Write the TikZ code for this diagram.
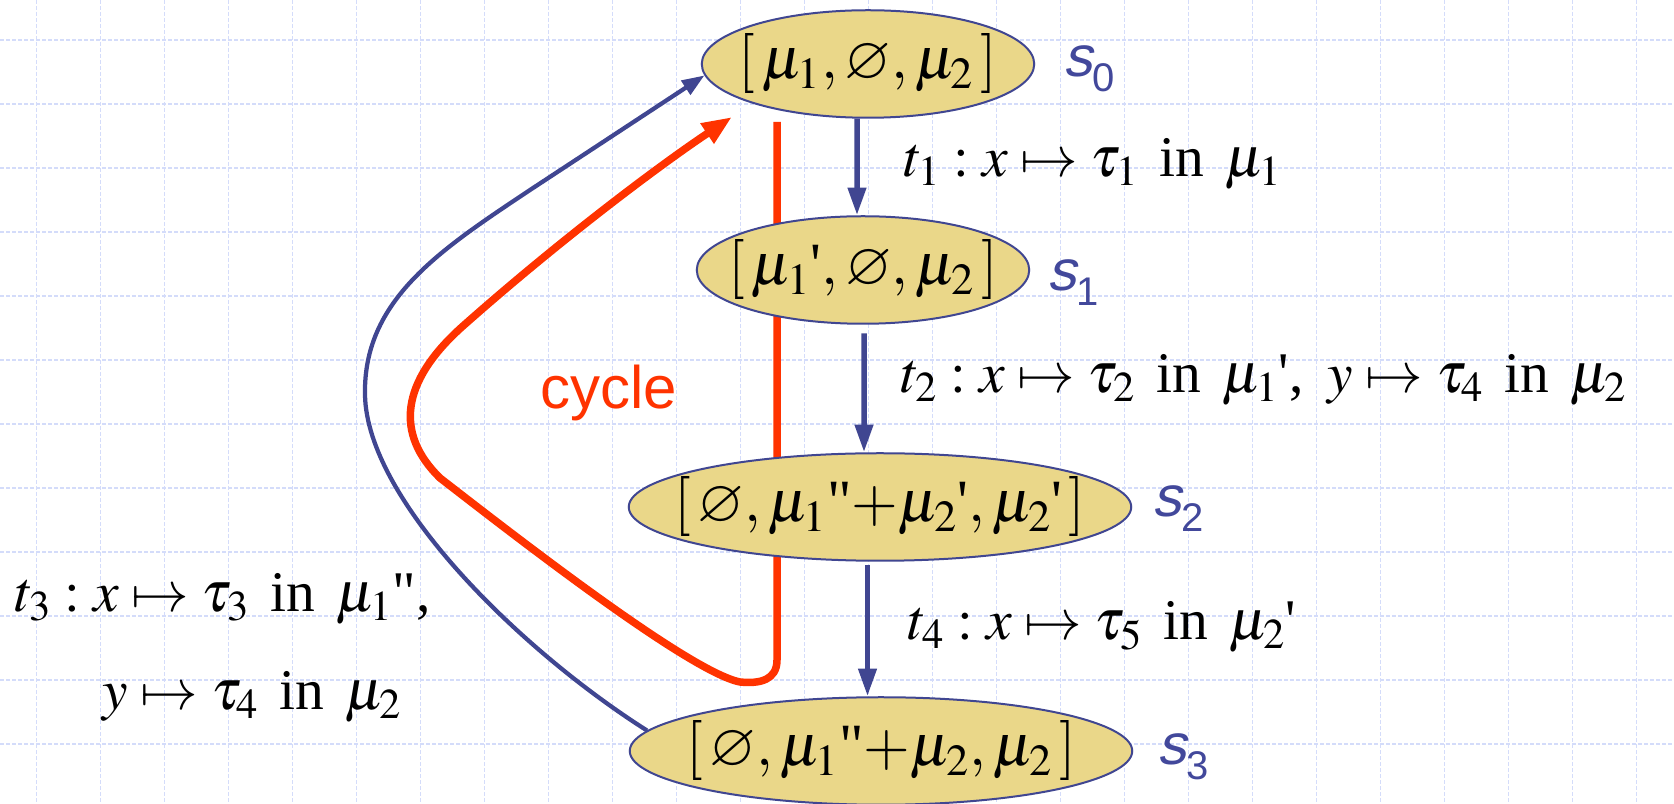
\documentclass[tikz,border=0pt]{standalone}
\usepackage{mathptmx}
\usepackage{amssymb}
\usepackage{fontspec}
\setmainfont{Liberation Serif}
\setsansfont{Liberation Sans}
\newfontfamily\slantsans[FakeSlant=0.22]{Liberation Sans}
\usepackage{tikz}
\usetikzlibrary{arrows.meta, positioning, shapes.geometric}

\definecolor{stateblue}{RGB}{64,70,145}
\definecolor{labelblue}{RGB}{66,72,155}
\definecolor{statefill}{RGB}{234,215,137}
\definecolor{cyclered}{RGB}{255,51,0}
\definecolor{gridblue}{RGB}{212,220,250}

\newcommand{\prm}{\mbox{\textquotesingle}}
\newcommand{\dprm}{\mbox{\textquotedbl}}
\newcommand{\slab}[1]{{\slantsans s}\raisebox{-6pt}{\fontsize{16}{18}\selectfont #1}}
\newcommand{\inword}{\hspace{0.36em}in\hspace{0.36em}}

\begin{document}
\begin{tikzpicture}[x=0.4pt, y=-0.4pt,
  conf/.style={
    ellipse, draw=stateblue, fill=statefill, line width=0.8pt, inner sep=0pt,
    minimum height=43pt, font=\fontsize{24}{28}\selectfont
  },
  narrow/.style={minimum width=133pt},
  wide/.style={minimum width=201pt},
  trans/.style={-{Triangle[length=11pt,width=7pt]}, line width=2.2pt, draw=stateblue},
  returnarrow/.style={-{Triangle[length=9pt,width=6.5pt]}, line width=1.7pt, draw=stateblue},
  cyc/.style={-{Triangle[length=12pt,width=9pt]}, line width=3pt, draw=cyclered, line join=round},
  rule/.style={font=\fontsize{23}{27}\selectfont, inner sep=0pt, anchor=base west},
  slabel/.style={font=\sffamily\fontsize{23}{27}\selectfont, text=labelblue, inner sep=0pt, anchor=base west},
  gridline/.style={gridblue, line width=0.6pt, dash pattern=on 1.6pt off 0.8pt}
]
\useasboundingbox (0,0) rectangle (1674,804);

% --- background grid ---
\foreach \gx in {0,...,25}
  \draw[gridline] ({36.7+64*\gx},0) -- ({36.7+64*\gx},804);
\foreach \gy in {0,...,11}
  \draw[gridline] (0,{40+64*\gy}) -- (1674,{40+64*\gy});

% --- the cycle, under the states ---
\draw[cyc] (777,122) -- (777,660) .. controls (777,680) and (760,684) .. (740,682)
  .. controls (690,672) and (520,540) .. (440,478)
  .. controls (395,434) and (400,382) .. (463,326)
  .. controls (560,240) and (660,165) .. (732,117);
\node[font=\sffamily\fontsize{24}{28}\selectfont, text=cyclered, inner sep=0pt, anchor=base west] (cyclbl) at (540,409) {cycle};

% --- states ---
\node[conf, narrow] (s0) at (868,64) {\makebox[0pt]{$[\,\mu_1, \varnothing, \mu_2\,]$}};
\node[conf, narrow] (s1) at (863,270) {\makebox[0pt]{$[\,\mu_1$\prm$, \varnothing, \mu_2\,]$}};
\node[conf, wide] (s2) at (880,507) {\makebox[0pt]{$[\,\varnothing, \mu_1$\dprm$+\mu_2$\prm$, \mu_2$\prm$\,]$}};
\node[conf, wide] (s3) at (881,751) {\makebox[0pt]{$[\,\varnothing, \mu_1$\dprm$+\mu_2, \mu_2\,]$}};

\node[slabel] (n0) at (1063,77) {\slab{0}};
\node[slabel] (n1) at (1047,291) {\slab{1}};
\node[slabel] (n2) at (1152,517) {\slab{2}};
\node[slabel] (n3) at (1157,765) {\slab{3}};

% --- transitions ---
\draw[trans] ([xshift=-4.4pt]s0.south) -- ([xshift=-2.4pt]s1.north);
\draw[trans] ([xshift=0.4pt,yshift=-3.5pt]s1.south) -- ([xshift=-6.4pt]s2.north);
\draw[trans] ([xshift=-5pt,yshift=-1.2pt]s2.south) -- ([xshift=-5.4pt]s3.north);
\draw[returnarrow] (s3.175) .. controls (520,650) and (367,500) .. (365,395)
  .. controls (363,300) and (440,250) .. (530,190) -- (s0.184);

% --- rule labels ---
\node[rule] (t1) at (903,177) {$t_1 : x \mapsto \tau_1$\inword$\mu_1$};
\node[rule] (t2) at (900,393) {$t_2 : x \mapsto \tau_2$\inword$\mu_1$\prm,\ \,$y \mapsto \tau_4$\inword$\mu_2$};
\node[rule] (t4) at (907,640) {$t_4 : x \mapsto \tau_5$\inword$\mu_2$\prm};
\node[rule] (t3) at (14,612) {$t_3 : x \mapsto \tau_3$\inword$\mu_1$\dprm,};
\node[rule] (t3b) at (102,710) {$y \mapsto \tau_4$\inword$\mu_2$};

\end{tikzpicture}
\end{document}
